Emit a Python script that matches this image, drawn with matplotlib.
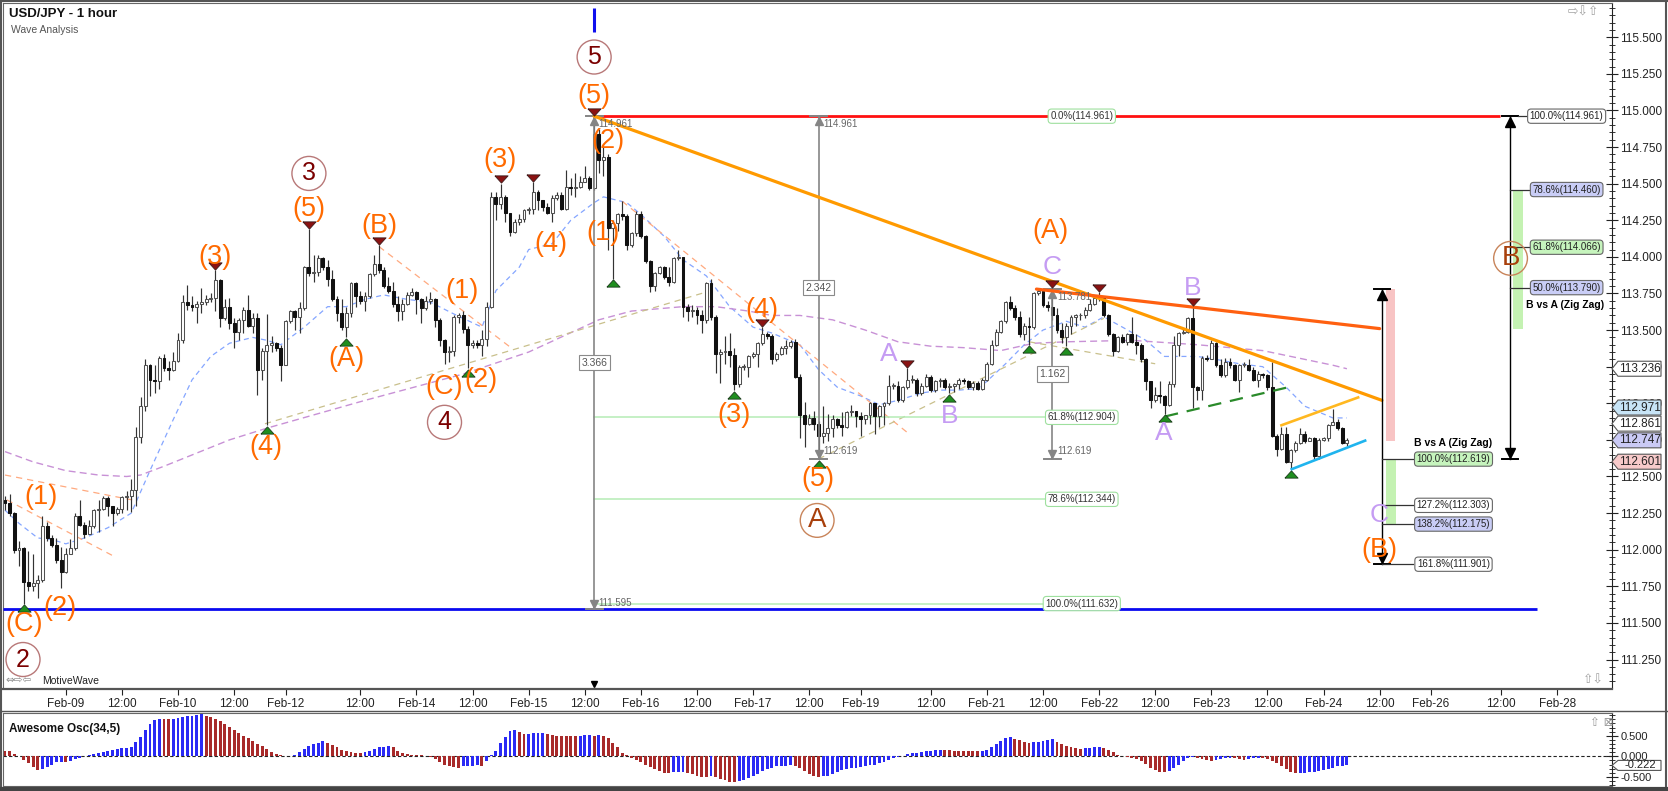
import numpy as np
import matplotlib
matplotlib.use("Agg")
import matplotlib.pyplot as plt
from matplotlib.patches import Rectangle, Polygon
from matplotlib.lines import Line2D
import matplotlib.transforms as mtransforms
from matplotlib.ticker import MultipleLocator

plt.rcParams['font.family'] = ['Liberation Sans', 'DejaVu Sans']

# ---------------- data (hourly USD/JPY candles) ----------------
first_open = 112.34
close = [
 112.32,112.25,112.00,112.01,111.78,111.75,111.77,111.79,112.16,112.08,
 112.03,111.93,111.85,111.97,112.01,112.23,112.17,112.11,112.16,112.27,
 112.28,112.35,112.30,112.25,112.28,112.36,112.37,112.41,112.77,112.98,
 113.26,113.16,113.15,113.31,113.24,113.23,113.29,113.43,113.69,113.67,
 113.66,113.68,113.69,113.71,113.72,113.84,113.58,113.66,113.55,113.49,
 113.57,113.64,113.53,113.58,113.23,113.36,113.40,113.41,113.38,113.26,
 113.56,113.63,113.59,113.65,113.93,113.89,113.90,113.99,113.93,113.85,
 113.71,113.62,113.52,113.62,113.82,113.73,113.70,113.73,113.88,113.95,
 113.91,113.80,113.77,113.68,113.63,113.68,113.74,113.76,113.71,113.65,
 113.70,113.71,113.57,113.43,113.35,113.36,113.59,113.60,113.51,113.40,
 113.41,113.40,113.44,113.66,114.41,114.36,114.41,114.30,114.17,114.24,
 114.26,114.32,114.33,114.44,114.39,114.34,114.30,114.40,114.42,114.33,
 114.48,114.47,114.48,114.51,114.54,114.47,114.84,114.66,114.68,114.20,
 114.23,114.29,114.28,114.08,114.16,114.29,114.14,113.97,113.80,113.89,
 113.93,113.86,113.83,113.99,114.00,113.66,113.63,113.64,113.60,113.57,
 113.82,113.59,113.34,113.35,113.36,113.33,113.13,113.25,113.25,113.32,
 113.34,113.41,113.47,113.46,113.30,113.34,113.38,113.39,113.42,113.18,
 112.92,112.86,112.90,112.86,112.78,112.80,112.83,112.89,112.85,112.84,
 112.94,112.95,112.91,112.89,112.92,113.00,112.91,112.98,113.00,113.12,
 113.12,113.02,113.11,113.16,113.16,113.07,113.12,113.18,113.09,113.15,
 113.16,113.11,113.12,113.13,113.16,113.15,113.11,113.14,113.10,113.16,
 113.27,113.40,113.49,113.56,113.69,113.65,113.59,113.47,113.53,113.52,
 113.75,113.77,113.67,113.66,113.60,113.50,113.45,113.53,113.59,113.60,
 113.60,113.64,113.68,113.72,113.73,113.60,113.47,113.36,113.45,113.42,
 113.47,113.42,113.40,113.30,113.15,113.02,113.06,113.05,112.99,113.13,
 113.40,113.48,113.49,113.58,113.11,113.09,113.31,113.30,113.41,113.26,
 113.19,113.28,113.26,113.16,113.26,113.26,113.23,113.16,113.20,113.19,
 113.11,112.78,112.69,112.79,112.60,112.68,112.73,112.79,112.74,112.76,
 112.64,112.75,112.76,112.85,112.87,112.83,112.73,112.75]
high = [
 112.37,112.38,112.26,112.06,112.02,111.99,111.97,111.83,112.23,112.19,
 112.10,112.08,112.02,112.01,112.07,112.25,112.34,112.19,112.20,112.28,
 112.34,112.37,112.37,112.28,112.29,112.37,112.40,112.48,112.84,113.04,
 113.30,113.27,113.26,113.32,113.34,113.29,113.35,113.48,113.74,113.81,
 113.73,113.70,113.79,113.74,113.75,113.91,113.85,113.71,113.72,113.58,
 113.58,113.66,113.74,113.62,113.62,113.38,113.61,113.46,113.42,113.40,
 113.57,113.64,113.64,113.69,113.94,114.19,114.01,114.01,114.00,113.98,
 113.91,113.73,113.71,113.66,113.83,113.83,113.77,113.76,113.89,114.01,
 114.08,113.93,113.86,113.83,113.73,113.71,113.76,113.79,113.77,113.72,
 113.73,113.76,113.72,113.58,113.44,113.39,113.60,113.62,113.63,113.53,
 113.43,113.43,113.50,113.69,114.44,114.44,114.50,114.42,114.30,114.26,
 114.29,114.33,114.34,114.51,114.46,114.39,114.37,114.42,114.44,114.44,
 114.59,114.54,114.57,114.55,114.62,114.55,114.961,114.87,114.75,114.70,
 114.25,114.30,114.38,114.29,114.17,114.31,114.31,114.15,113.98,113.90,
 113.94,113.94,113.93,114.00,114.05,114.00,113.68,113.67,113.66,113.64,
 113.83,113.85,113.60,113.37,113.46,113.48,113.38,113.26,113.27,113.33,
 113.35,113.42,113.52,113.49,113.47,113.35,113.39,113.43,113.43,113.44,
 113.20,113.01,112.93,112.95,112.88,112.98,112.93,112.92,112.90,112.94,
 112.95,112.99,112.94,112.94,112.92,113.01,113.00,112.99,113.01,113.19,
 113.14,113.15,113.12,113.24,113.19,113.17,113.14,113.20,113.19,113.16,
 113.17,113.17,113.14,113.14,113.17,113.17,113.16,113.15,113.15,113.17,
 113.28,113.43,113.51,113.57,113.70,113.73,113.67,113.63,113.55,113.59,
 113.76,113.79,113.77,113.70,113.781,113.65,113.55,113.55,113.60,113.61,
 113.62,113.66,113.71,113.73,113.76,113.69,113.61,113.48,113.46,113.47,
 113.48,113.59,113.47,113.41,113.31,113.15,113.11,113.15,113.06,113.15,
 113.46,113.49,113.51,113.59,113.66,113.12,113.32,113.33,113.43,113.42,
 113.30,113.31,113.31,113.27,113.27,113.28,113.30,113.25,113.22,113.21,
 113.20,113.28,112.79,112.84,112.84,112.69,112.74,112.83,112.81,112.77,
 112.77,112.76,112.77,112.86,112.96,112.89,112.84,112.76]
low = [
 112.27,112.23,111.98,111.89,111.63,111.72,111.72,111.67,111.78,112.06,
 112.02,111.91,111.74,111.84,111.97,112.00,112.16,112.08,112.11,112.15,
 112.12,112.27,112.23,112.16,112.24,112.25,112.27,112.26,112.30,112.73,
 112.95,113.05,113.07,113.10,113.22,113.16,113.22,113.28,113.41,113.64,
 113.63,113.55,113.62,113.67,113.69,113.63,113.52,113.57,113.51,113.38,
 113.43,113.48,113.52,113.48,113.06,113.16,112.85,113.35,113.36,113.15,
 113.26,113.55,113.50,113.48,113.64,113.87,113.83,113.87,113.91,113.80,
 113.70,113.56,113.50,113.45,113.59,113.66,113.68,113.63,113.72,113.87,
 113.89,113.79,113.75,113.66,113.56,113.57,113.67,113.73,113.61,113.55,
 113.64,113.68,113.52,113.39,113.27,113.28,113.32,113.55,113.48,113.24,
 113.38,113.38,113.32,113.39,113.65,114.25,114.33,114.24,114.14,114.16,
 114.22,114.24,114.29,114.29,114.32,114.31,114.29,114.24,114.39,114.32,
 114.32,114.42,114.41,114.47,114.51,114.46,114.46,114.57,114.55,114.05,
 113.85,114.18,114.25,114.05,114.07,114.14,114.13,113.96,113.76,113.77,
 113.88,113.85,113.80,113.82,113.98,113.59,113.56,113.59,113.54,113.48,
 113.55,113.57,113.21,113.14,113.27,113.25,113.09,113.11,113.23,113.18,
 113.31,113.25,113.40,113.44,113.27,113.29,113.33,113.34,113.38,113.17,
 112.76,112.70,112.85,112.82,112.619,112.73,112.74,112.77,112.83,112.78,
 112.83,112.91,112.84,112.78,112.86,112.86,112.79,112.84,112.85,112.99,
 113.10,113.01,113.01,113.10,113.14,113.05,113.06,113.11,113.08,113.08,
 113.11,113.10,113.07,113.08,113.10,113.13,113.10,113.09,113.09,113.09,
 113.15,113.26,113.39,113.48,113.55,113.64,113.57,113.45,113.43,113.40,
 113.51,113.74,113.66,113.63,113.57,113.48,113.41,113.39,113.47,113.53,
 113.57,113.58,113.63,113.67,113.70,113.59,113.46,113.32,113.35,113.41,
 113.40,113.41,113.34,113.28,113.09,112.97,113.01,113.00,112.93,112.98,
 113.11,113.32,113.47,113.48,112.97,113.02,113.02,113.29,113.30,113.25,
 113.18,113.18,113.24,113.15,113.08,113.25,113.22,113.15,113.11,113.17,
 113.09,112.77,112.64,112.68,112.59,112.55,112.67,112.72,112.73,112.74,
 112.62,112.62,112.74,112.74,112.85,112.82,112.72,112.71]

# Awesome oscillator (34,5), one value per candle
ao = [
 0.14,0.12,0.06,0.01,-0.08,-0.17,-0.25,-0.33,-0.32,-0.26,
 -0.20,-0.15,-0.13,-0.15,-0.12,-0.075,-0.035,0.005,0.025,0.05,
 0.075,0.11,0.14,0.165,0.18,0.20,0.21,0.23,0.35,0.475,
 0.64,0.78,0.89,0.91,0.905,0.90,0.92,0.94,0.96,0.975,
 0.99,1.01,1.025,0.99,0.96,0.91,0.85,0.79,0.72,0.63,
 0.56,0.50,0.45,0.38,0.31,0.24,0.17,0.10,0.05,0.02,
 0.01,0.015,0.04,0.10,0.18,0.25,0.30,0.33,0.38,0.33,
 0.28,0.22,0.15,0.12,0.10,0.085,0.083,0.11,0.14,0.18,
 0.22,0.225,0.24,0.235,0.14,0.085,0.06,0.04,0.035,0.02,
 0.01,-0.02,-0.075,-0.13,-0.20,-0.24,-0.27,-0.275,-0.24,-0.235,
 -0.232,-0.22,-0.225,-0.11,0.02,0.13,0.32,0.475,0.61,0.63,
 0.60,0.54,0.55,0.56,0.562,0.565,0.54,0.51,0.50,0.498,
 0.497,0.496,0.495,0.505,0.515,0.52,0.50,0.51,0.50,0.45,
 0.325,0.22,0.085,0.02,-0.04,-0.085,-0.14,-0.20,-0.26,-0.32,
 -0.37,-0.40,-0.41,-0.39,-0.385,-0.383,-0.41,-0.44,-0.48,-0.50,
 -0.502,-0.48,-0.51,-0.55,-0.58,-0.62,-0.63,-0.61,-0.57,-0.53,
 -0.475,-0.42,-0.37,-0.32,-0.275,-0.24,-0.233,-0.225,-0.217,-0.233,
 -0.29,-0.37,-0.44,-0.48,-0.50,-0.48,-0.475,-0.42,-0.39,-0.34,
 -0.31,-0.29,-0.275,-0.25,-0.233,-0.217,-0.20,-0.16,-0.13,-0.09,
 -0.05,-0.017,0.017,0.05,0.075,0.09,0.115,0.13,0.14,0.15,
 0.158,0.155,0.15,0.14,0.135,0.13,0.125,0.122,0.12,0.13,
 0.165,0.225,0.30,0.38,0.45,0.46,0.43,0.39,0.35,0.333,
 0.34,0.36,0.38,0.40,0.41,0.35,0.30,0.26,0.225,0.20,
 0.19,0.20,0.21,0.215,0.217,0.20,0.16,0.10,0.04,0.005,
 -0.025,-0.04,-0.067,-0.117,-0.19,-0.275,-0.34,-0.383,-0.385,-0.35,
 -0.283,-0.21,-0.11,-0.04,-0.025,-0.042,-0.067,-0.09,-0.117,-0.09,
 -0.067,-0.05,-0.042,-0.05,-0.075,-0.083,-0.067,-0.05,-0.042,-0.05,
 -0.075,-0.117,-0.167,-0.233,-0.317,-0.383,-0.417,-0.41,-0.40,-0.39,
 -0.375,-0.358,-0.333,-0.31,-0.275,-0.242,-0.225,-0.222]

# moving averages (bar index, value)
blue_ma_x = [0,3,7,10,13,17,22,27,31,36,40,44,48,53,56,59,64,69,73,77,81,86,91,96,102,105,110,112,117,121,126,128,133,136,141,145,150,155,160,164,170,174,178,183,187,191,196,200,204,208,210,214,218,222,227,231,235,239,244,248,251,255,259,264,269,274,278,284,287]
blue_ma_y = [112.27,112.18,112.08,112.07,112.04,112.08,112.15,112.25,112.54,112.89,113.16,113.32,113.41,113.45,113.43,113.40,113.52,113.66,113.66,113.71,113.74,113.71,113.69,113.61,113.52,113.77,113.93,114.05,114.09,114.25,114.37,114.41,114.37,114.29,114.14,113.98,113.87,113.66,113.52,113.48,113.40,113.23,113.11,113.05,112.99,113.02,113.07,113.09,113.09,113.10,113.15,113.27,113.40,113.50,113.56,113.52,113.59,113.52,113.43,113.32,113.32,113.32,113.30,113.27,113.25,113.11,112.98,112.90,112.90]
purple_ma_x = [0,6,13,20,26,29,34,41,48,56,77,98,112,127,134,145,152,159,164,170,177,184,191,198,205,213,220,227,241,255,269,284,287]
purple_ma_y = [112.67,112.60,112.54,112.51,112.50,112.51,112.57,112.66,112.75,112.83,113.02,113.20,113.35,113.57,113.63,113.66,113.66,113.63,113.60,113.60,113.57,113.50,113.42,113.39,113.38,113.36,113.41,113.42,113.43,113.40,113.36,113.26,113.236]

tick_pos = [13,25,37,49,60,76,88,100,112,124,136,148,160,172,183,198,210,222,234,246,258,270,282,294,305,320,332]
tick_labels = ["Feb-09","12:00","Feb-10","12:00","Feb-12","12:00","Feb-14","12:00","Feb-15","12:00",
               "Feb-16","12:00","Feb-17","12:00","Feb-19","12:00","Feb-21","12:00","Feb-22","12:00",
               "Feb-23","12:00","Feb-24","12:00","Feb-26","12:00","Feb-28"]
price_ticks = [111.25,111.5,111.75,112.0,112.25,112.5,112.75,113.0,113.25,113.5,113.75,114.0,114.25,114.5,114.75,115.0,115.25,115.5]

pivot_highs = [45,65,80,106,113,126,162,193,224,234,254]
pivot_lows = [4,56,73,99,130,156,174,202,219,227,248,275]

orange_labels = [("(C)",4,111.49),("(1)",7.8,112.36),("(2)",11.8,111.60),("(3)",45,114.00),("(4)",55.8,112.70),
                 ("(5)",65,114.33),("(A)",73,113.30),("(B)",80,114.21),("(C)",94,113.11),("(1)",97.8,113.77),
                 ("(2)",101.8,113.16),("(3)",105.9,114.66),("(4)",116.8,114.09),("(5)",126,115.10),("(2)",129,114.79),
                 ("(1)",127.8,114.16),("(3)",156,112.92),("(4)",161.9,113.64),("(5)",173.9,112.48),("(A)",223.7,114.18),
                 ("(B)",294,112.00)]
circle_dark = [("2",3.85,111.25),("3",65,114.57),("4",94,112.87),("5",126,115.365)]
circle_brown = [("A",173.7,112.20),("B",322,113.99)]
purple_labels = [("A",189,113.34),("B",202,112.91),("C",224,113.93),("A",247.9,112.80),("B",254.1,113.79),("C",294,112.24)]

# trend lines ((x0,y0),(x1,y1))
orange_line = ((126,114.961),(294.5,113.02))
orangered_line = ((220.6,113.78),(294,113.51))
gold_line = ((273.0,112.85),(289.4,113.04))
cyan_line = ((275.2,112.55),(290.9,112.745))
green_dash_line = ((248.1,112.91),(274.5,113.11))
orange_dash_lines = [((0,112.51),(27.2,112.34)),((0.4,112.34),(23,111.96)),((80,114.07),(108.2,113.38)),((132,114.38),(193,112.80))]
khaki_dash_lines = [((55.6,112.86),(150,113.76)),((174,112.62),(235,113.58)),((219,113.42),(246,113.27))]

top_level, bottom_level = 114.961, 111.595
fib_mid = [(114.961,"0.0%(114.961)"),(112.904,"61.8%(112.904)"),(112.344,"78.6%(112.344)"),(111.632,"100.0%(111.632)")]
fib_b_right = [(114.961,"100.0%(114.961)","white"),(114.460,"78.6%(114.460)","#c9cdf6"),(114.066,"61.8%(114.066)","#c6f4bd"),(113.790,"50.0%(113.790)","#c9cdf6")]
fib_b_low = [(112.619,"100.0%(112.619)","#c6f4bd"),(112.303,"127.2%(112.303)","white"),(112.175,"138.2%(112.175)","#c9cdf6"),(111.901,"161.8%(111.901)","white")]
right_values = [(113.236,"white"),(112.971,"#c7e4f6"),(112.861,"white"),(112.747,"#cacaf5"),(112.601,"#f7caca")]
ao_last = -0.222

# ---------------- figure ----------------
W, H = 1668, 791
fig = plt.figure(figsize=(W/100, H/100), dpi=100)
fig.patch.set_facecolor('white')

def rect(x0, y0, x1, y1):
    return [x0/W, 1 - y1/H, (x1-x0)/W, (y1-y0)/H]

XMIN, XMAX = -0.43, 343.7
ax = fig.add_axes(rect(3, 3, 1612, 688.5))
ax.set_xlim(XMIN, XMAX)
ax.set_ylim(111.052, 115.734)
PPU = 146.4  # pixels per yen

idx = np.arange(len(close))
c = np.array(close); hi = np.array(high); lo = np.array(low)
o = np.r_[first_open, c[:-1]]
hi = np.maximum(hi, np.maximum(o, c)); lo = np.minimum(lo, np.minimum(o, c))
up = c >= o
ax.vlines(idx, lo, hi, color='#333333', lw=0.85, zorder=3)
bot = np.minimum(o, c); ht = np.maximum(np.abs(c - o), 0.006)
ax.bar(idx[up], ht[up], width=0.62, bottom=bot[up], facecolor='white', edgecolor='#505050', linewidth=0.75, zorder=4)
ax.bar(idx[~up], ht[~up], width=0.62, bottom=bot[~up], facecolor='#111111', edgecolor='#111111', linewidth=0.75, zorder=4)

# moving averages
ax.plot(blue_ma_x, blue_ma_y, color='#85a6ff', lw=0.9, dashes=(4, 3), zorder=2)
ax.plot(purple_ma_x, purple_ma_y, color='#c891d6', lw=1.0, dashes=(5, 3), zorder=2)

# thin dashed wave lines
for (p0, p1) in orange_dash_lines:
    ax.plot([p0[0], p1[0]], [p0[1], p1[1]], color='#ffaa80', lw=0.9, dashes=(5, 4), zorder=2)
for (p0, p1) in khaki_dash_lines:
    ax.plot([p0[0], p1[0]], [p0[1], p1[1]], color='#c9c08c', lw=0.9, dashes=(5, 4), zorder=2)

# fib horizontal lines
ax.plot([126, 319.7], [top_level, top_level], color='#ff1010', lw=2.0, zorder=5, solid_capstyle='butt')
ax.plot([XMIN, 327.6], [bottom_level, bottom_level], color='#0a0af0', lw=2.0, zorder=5, solid_capstyle='butt')
for lvl, _ in fib_mid[1:]:
    ax.plot([126, 222.6], [lvl, lvl], color='#b5ecb5', lw=1.1, zorder=2)
for lvl, s in fib_mid:
    ax.text(230.3, lvl, s, fontsize=7, ha='center', va='center', color='#333333', zorder=9,
            bbox=dict(boxstyle='round,pad=0.22,rounding_size=0.35', fc='white', ec='#9ee09e', lw=0.8))

# trend lines
def seg(line, **kw):
    (x0, y0), (x1, y1) = line
    ax.plot([x0, x1], [y0, y1], **kw)
seg(orange_line, color='#ff9a00', lw=2.3, zorder=6, solid_capstyle='round')
seg(orangered_line, color='#ff6010', lw=2.3, zorder=6, solid_capstyle='round')
seg(gold_line, color='#ffb820', lw=1.9, zorder=6)
seg(cyan_line, color='#1fb4ee', lw=1.9, zorder=6)
seg(green_dash_line, color='#2a8a2a', lw=1.6, dashes=(6, 4), zorder=6)

# measurement lines (gray)
def measure(x, top, bot, label, top_txt, bot_txt, col='#858585'):
    ax.plot([x, x], [top, bot], color=col, lw=1.2, zorder=5)
    for lvl in (top, bot):
        ax.plot([x - 1.8, x + 1.8], [lvl, lvl], color=col, lw=1.4, zorder=5)
    ax.plot(x, top - 5/PPU, marker='^', ms=6, color=col, zorder=5)
    ax.plot(x, bot + 5/PPU, marker='v', ms=6, color=col, zorder=5)
    ax.text(x, (top + bot) / 2, label, fontsize=7.5, ha='center', va='center', color='#555555', zorder=9,
            bbox=dict(boxstyle='square,pad=0.25', fc='white', ec='#8a8a8a', lw=0.8))
    ax.text(x + 1.0, top - 8/PPU, top_txt, fontsize=7, ha='left', va='center', color='#666666', zorder=9)
    ax.text(x + 1.0, bot + (6 if bot < 111.7 else 8)/PPU, bot_txt,
            fontsize=7, ha='left', va='center', color='#666666', zorder=9)

measure(126, top_level, bottom_level, "3.366", "114.961", "111.595")
measure(174, top_level, 112.619, "2.342", "114.961", "112.619")
measure(224, 113.781, 112.619, "1.162", "113.781", "112.619")

# pivot markers
up_tri = [(-1, -0.55), (1, -0.55), (0, 0.55), (-1, -0.55)]
dn_tri = [(-1, 0.55), (1, 0.55), (0, -0.55), (-1, 0.55)]
ax.plot(pivot_highs, hi[pivot_highs] + 4.5/PPU, ls='none', marker=dn_tri, ms=9.5,
        mfc='#8a1212', mec='#3a1a1a', mew=0.6, zorder=7)
ax.plot(pivot_lows, lo[pivot_lows] - 4.5/PPU, ls='none', marker=up_tri, ms=9.5,
        mfc='#1f8e1f', mec='#1a3a1a', mew=0.6, zorder=7)

# right-hand fib groups (black)
def black_measure(x, top, bot):
    ax.plot([x, x], [top, bot], color='black', lw=1.0, zorder=7)
    for lvl in (top, bot):
        ax.plot([x - 1.8, x + 1.8], [lvl, lvl], color='black', lw=1.4, zorder=7)
    ax.plot(x, top - 6/PPU, marker='^', ms=6.5, color='black', zorder=7)
    ax.plot(x, bot + 6/PPU, marker='v', ms=6.5, color='black', zorder=7)

ax.add_patch(Rectangle((322.5, 113.51), 2.1, 114.46 - 113.51, fc='#c4f2b2', ec='none', zorder=3))
black_measure(321.9, 114.961, 112.619)
for lvl, s, fc in fib_b_right:
    ax.plot([321.9 if lvl < 114.9 else 323.7, 326.3], [lvl, lvl], color='#333333', lw=0.9, zorder=7)
    ax.text(334.0, lvl, s, fontsize=7, ha='center', va='center', color='#222222', zorder=9,
            bbox=dict(boxstyle='round,pad=0.22,rounding_size=0.35', fc=fc, ec='#666666', lw=0.8))
ax.text(333.6, 113.79 - 17/PPU, "B vs A (Zig Zag)", fontsize=7.5, fontweight='bold', ha='center', va='center', zorder=9)

ax.add_patch(Rectangle((295.3, 112.74), 2.0, 113.78 - 112.74, fc='#f8c4c4', ec='none', zorder=3))
ax.add_patch(Rectangle((295.3, 112.175), 2.1, 112.619 - 112.175, fc='#c4f2b2', ec='none', zorder=3))
black_measure(294.5, 113.78, 111.901)
for lvl, s, fc in fib_b_low:
    ax.plot([294.5, 301.2], [lvl, lvl], color='#333333', lw=0.9, zorder=7)
    ax.text(309.8, lvl, s, fontsize=7, ha='center', va='center', color='#222222', zorder=9,
            bbox=dict(boxstyle='round,pad=0.22,rounding_size=0.35', fc=fc, ec='#666666', lw=0.8))
ax.text(309.8, 112.619 + 16/PPU, "B vs A (Zig Zag)", fontsize=7.5, fontweight='bold', ha='center', va='center', zorder=9)

# wave labels
for s, x, y in orange_labels:
    ax.text(x, y, s, fontsize=19.5, color='#ff6a00', ha='center', va='center', zorder=9)
for s, x, y in purple_labels:
    ax.text(x, y, s, fontsize=19, color='#c59cf3', ha='center', va='center', zorder=9)
for s, x, y in circle_dark:
    ax.text(x, y, s, fontsize=18, color='#7b0000', ha='center', va='center', zorder=9,
            bbox=dict(boxstyle='circle,pad=0.2', fc='none', ec='#b87878', lw=1.0))
for s, x, y in circle_brown:
    ax.text(x, y, s, fontsize=20, color='#a8400c', ha='center', va='center', zorder=9,
            bbox=dict(boxstyle='circle,pad=0.14', fc='none', ec='#c8845a', lw=1.0))

# blue time marker at top and small marker at bottom
ax.plot([126, 126], [115.536, 115.697], color='#1010ee', lw=2.2, zorder=8, solid_capstyle='butt')
ax.plot(126, 111.052 + 4/PPU, marker='v', ms=5, color='black', zorder=8, clip_on=False)

# axes styling
for side in ('left', 'top'):
    ax.spines[side].set_color('#666666')
ax.spines['right'].set_color('#222222')
ax.spines['bottom'].set_color('#555555'); ax.spines['bottom'].set_linewidth(1.6)
ax.yaxis.tick_right()
ax.set_yticks(price_ticks)
ax.set_yticklabels([f"{v:.3f}" for v in price_ticks])
ax.yaxis.set_minor_locator(MultipleLocator(0.05))
ax.tick_params(axis='y', which='major', direction='inout', length=8, width=0.8, labelsize=8.5, pad=2, colors='#222222')
ax.tick_params(axis='y', which='minor', direction='inout', length=4, width=0.7, colors='#333333')
ax.set_xticks(tick_pos)
ax.set_xticklabels(tick_labels)
ax.tick_params(axis='x', direction='out', length=4, width=0.8, labelsize=8.5, pad=3, colors='#222222')

# value boxes on the right price axis
def value_box(axis, val, fc, txt, half_h, fs=8.5):
    trans = mtransforms.blended_transform_factory(fig.transFigure, axis.transData)
    xt, x1, x2 = 1612/W, 1618/W, 1661/W
    poly = Polygon([(xt, val), (x1, val + half_h), (x2, val + half_h), (x2, val - half_h), (x1, val - half_h)],
                   closed=True, fc=fc, ec='#555555', lw=0.8, transform=trans, clip_on=False, zorder=20)
    axis.add_patch(poly)
    axis.text(1640/W, val, txt, transform=trans, fontsize=fs, ha='center', va='center', color='#222222',
              zorder=21, clip_on=False)

for v, fc in right_values:
    value_box(ax, v, fc, f"{v:.3f}", 7.5/PPU)

# ---------------- oscillator ----------------
axo = fig.add_axes(rect(3, 712.5, 1612, 786))
axo.set_xlim(XMIN, XMAX)
axo.set_ylim(-0.724, 1.068)
aov = np.array(ao)
rising = np.r_[False, aov[1:] > aov[:-1]]
cols = np.where(rising, '#2a2af5', '#a82a2a')
axo.bar(idx, aov, width=0.62, color=cols, edgecolor='none', zorder=3)
axo.axhline(0, color='#222222', lw=0.8, dashes=(3, 2), zorder=2)
axo.set_xticks([])
axo.yaxis.tick_right()
axo.set_yticks([-0.5, 0.0, 0.5])
axo.set_yticklabels(["-0.500", "0.000", "0.500"])
axo.yaxis.set_minor_locator(MultipleLocator(0.1))
axo.tick_params(axis='y', which='major', direction='inout', length=8, width=0.8, labelsize=8, pad=2, colors='#222222')
axo.tick_params(axis='y', which='minor', direction='inout', length=4, width=0.7, colors='#333333')
for side in ('left', 'top', 'bottom'):
    axo.spines[side].set_color('#666666')
axo.spines['right'].set_color('#222222')
value_box(axo, ao_last, 'white', f"{ao_last:.3f}", 5/41.0, fs=8)
axo.text(0.004, 0.78, "Awesome Osc(34,5)", transform=axo.transAxes, fontsize=8.5, fontweight='bold',
         ha='left', va='center', color='#111111')
axo.text(1590/W, 1 - 722/H, "⇧ ⊠", transform=fig.transFigure, fontsize=8.5, color='#999999',
         ha='left', va='center', family=['DejaVu Sans'])

# ---------------- header / frame texts ----------------
fig.text(9/W, 1 - 14/H, "USD/JPY - 1 hour", fontsize=9.5, fontweight='bold', ha='left', va='center', color='#111111')
fig.text(11/W, 1 - 30/H, "Wave Analysis", fontsize=7.5, ha='left', va='center', color='#555555')
fig.text(6/W, 1 - 681/H, "⇔⇨⇦", fontsize=7.5, ha='left', va='center', color='#8a8a8a', family=['DejaVu Sans'])
fig.text(42/W, 1 - 681/H, "MotiveWave", fontsize=7.5, ha='left', va='center', color='#222222')
fig.text(1568/W, 1 - 12/H, "⇨⇩⇧", fontsize=9, ha='left', va='center', color='#a0a0a0', family=['DejaVu Sans'])
fig.text(1583/W, 1 - 680/H, "⇧⇩", fontsize=9, ha='left', va='center', color='#a0a0a0', family=['DejaVu Sans'])

# frame lines
fig.add_artist(Line2D([0, 1], [1 - 710.5/H] * 2, color='#555555', lw=1.0))
fig.add_artist(Line2D([1/W, 1/W], [0, 1], color='#555555', lw=1.5))
fig.add_artist(Line2D([0, 1], [1 - 1/H] * 2, color='#555555', lw=1.5))
fig.add_artist(Line2D([1666/W, 1666/W], [0, 1], color='#555555', lw=1.5))
fig.add_artist(Line2D([0, 1], [1 - 789/H] * 2, color='#444444', lw=3))

fig.savefig("out.png", dpi=100, facecolor='white')
